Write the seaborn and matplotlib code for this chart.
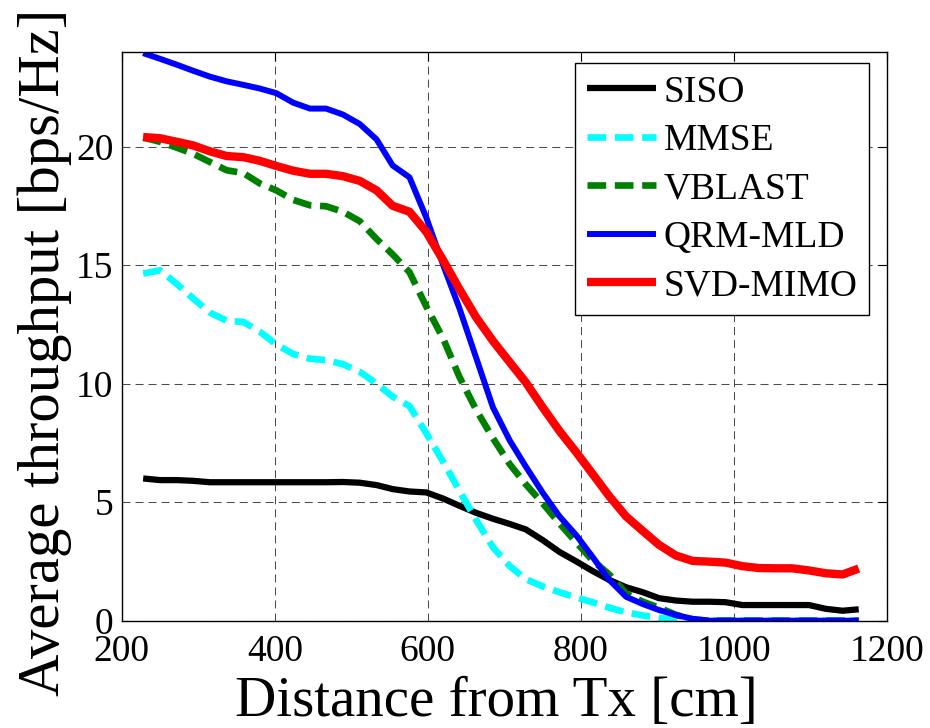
import matplotlib
matplotlib.use("Agg")
import matplotlib.pyplot as plt
import seaborn as sns

# Distance from the transmitter [cm]
distance = [228, 250, 272, 293, 315, 337, 359, 380, 402, 424, 446, 467, 489, 511,
            533, 554, 576, 598, 620, 641, 663, 685, 707, 728, 750, 772, 794, 815,
            837, 859, 881, 902, 924, 946, 968, 989, 1011, 1033, 1055, 1076, 1098,
            1120, 1142, 1163]

# Average throughput [bps/Hz] per scheme
siso = [6.00, 5.93, 5.93, 5.90, 5.84, 5.84, 5.84, 5.84, 5.84, 5.84, 5.84, 5.84,
        5.85, 5.82, 5.72, 5.55, 5.45, 5.41, 5.15, 4.85, 4.55, 4.30, 4.08, 3.85,
        3.40, 2.90, 2.50, 2.10, 1.72, 1.41, 1.20, 0.95, 0.85, 0.80, 0.80, 0.78,
        0.66, 0.66, 0.66, 0.66, 0.66, 0.50, 0.42, 0.48]
mmse = [14.64, 14.78, 14.20, 13.60, 13.00, 12.65, 12.60, 12.20, 11.65, 11.25,
        11.05, 10.99, 10.82, 10.50, 10.00, 9.45, 9.05, 7.90, 6.70, 5.50, 4.25,
        3.10, 2.30, 1.75, 1.45, 1.20, 0.98, 0.78, 0.55, 0.35, 0.22, 0.12, 0.03,
        0.00, 0.00, 0.00, 0.00, 0.00, 0.00, 0.00, 0.00, 0.00, 0.00, 0.00]
vblast = [20.38, 20.20, 19.95, 19.70, 19.35, 19.00, 18.88, 18.45, 18.15, 17.75,
          17.52, 17.48, 17.25, 16.85, 16.10, 15.45, 14.70, 13.25, 11.90, 10.30,
          8.90, 7.70, 6.60, 5.75, 4.95, 4.10, 3.30, 2.55, 1.95, 1.15, 0.80, 0.55,
          0.25, 0.05, 0.00, 0.00, 0.00, 0.00, 0.00, 0.00, 0.00, 0.00, 0.00, 0.00]
qrm_mld = [23.94, 23.70, 23.45, 23.20, 22.95, 22.75, 22.60, 22.45, 22.25, 21.85,
           21.60, 21.60, 21.35, 20.95, 20.30, 19.20, 18.70, 17.00, 15.00, 13.20,
           11.10, 9.00, 7.60, 6.50, 5.40, 4.40, 3.60, 2.70, 1.72, 1.01, 0.70,
           0.45, 0.24, 0.08, 0.00, 0.00, 0.00, 0.00, 0.00, 0.00, 0.00, 0.00,
           0.00, 0.00]
svd_mimo = [20.40, 20.35, 20.20, 20.05, 19.80, 19.60, 19.55, 19.40, 19.18, 18.98,
            18.85, 18.85, 18.75, 18.55, 18.15, 17.50, 17.25, 16.40, 15.20, 14.00,
            12.80, 11.80, 10.90, 10.05, 9.00, 8.00, 7.10, 6.20, 5.25, 4.40, 3.78,
            3.20, 2.75, 2.52, 2.49, 2.45, 2.30, 2.22, 2.21, 2.21, 2.12, 2.00,
            1.95, 2.20]

labels = ["SISO", "MMSE", "VBLAST", "QRM-MLD", "SVD-MIMO"]
x_ticks = [200, 400, 600, 800, 1000, 1200]
y_ticks = [0, 5, 10, 15, 20]

sns.set_style("white")
plt.rcParams["font.family"] = ["Liberation Serif", "DejaVu Serif"]
plt.rcParams["text.color"] = "black"
plt.rcParams["axes.labelcolor"] = "black"

fig = plt.figure(figsize=(9.3, 7.28), dpi=100)
ax = fig.add_axes([0.1309, 0.1474, 0.8229, 0.7816])

styles = [
    (siso, "#000000", 4.5, None),
    (mmse, "#00FFFF", 4.8, (2.8, 1.3)),
    (vblast, "#008000", 4.8, (2.8, 1.3)),
    (qrm_mld, "#0000FF", 4.3, None),
    (svd_mimo, "#FF0000", 6.0, None),
]
for (vals, color, lw, dash), name in zip(styles, labels):
    sns.lineplot(x=distance, y=vals, ax=ax, color=color, linewidth=lw,
                 label=name, sort=False, estimator=None, legend=False)
    line = ax.lines[-1]
    line.set_solid_capstyle("butt")
    if dash is not None:
        line.set_dashes(dash)
        line.set_dash_capstyle("butt")

ax.set_xlim(200, 1200)
ax.set_ylim(0, 24)
ax.set_xticks(x_ticks)
ax.set_yticks(y_ticks)
ax.set_xticklabels([str(v) for v in x_ticks])
ax.set_yticklabels([str(v) for v in y_ticks])

ax.set_axisbelow(True)
ax.grid(True, color="0.3", linewidth=0.75, linestyle=(0, (7.7, 4.8)))

for side in ["left", "right", "top", "bottom"]:
    ax.spines[side].set_visible(True)
    ax.spines[side].set_color("black")
    ax.spines[side].set_linewidth(1.0)

ax.tick_params(axis="both", which="major", direction="in", length=6.5,
               width=0.8, labelsize=27, top=True, right=True, color="black",
               labelcolor="black")
ax.tick_params(axis="x", pad=10)
ax.tick_params(axis="y", pad=6)

ax.set_xlabel("Distance from Tx [cm]", fontsize=41, color="black")
ax.set_ylabel("Average throughput [bps/Hz]", fontsize=42.3, color="black")
ax.xaxis.set_label_coords(0.49, -0.097)
ax.yaxis.set_label_coords(-0.065, 0.472)

leg = ax.legend(loc="upper right", bbox_to_anchor=(0.977, 0.980),
                borderaxespad=0, fontsize=27, handlelength=1.85,
                handletextpad=0.2, borderpad=0.32, labelspacing=0.37,
                frameon=True, fancybox=False)
frame = leg.get_frame()
frame.set_edgecolor("black")
frame.set_linewidth(1.0)
frame.set_alpha(1)
for text in leg.get_texts():
    text.set_color("black")

fig.savefig("out.png", dpi=100, facecolor="white")
